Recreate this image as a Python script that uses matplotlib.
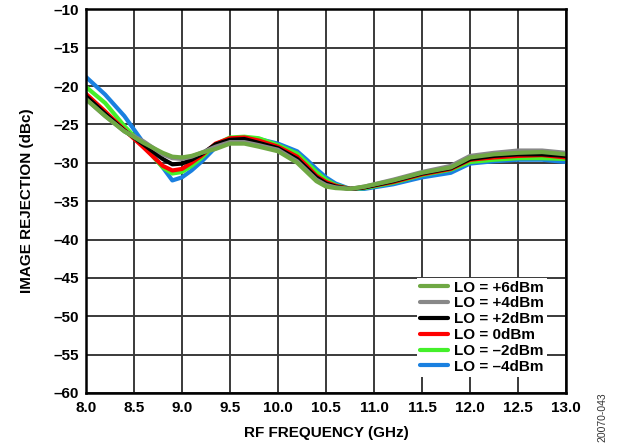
import matplotlib.pyplot as plt
from matplotlib.ticker import FixedLocator, FixedFormatter

plt.rcParams['font.family'] = ['Liberation Sans', 'DejaVu Sans']

# RF frequency (GHz)
freq = [8.0, 8.2, 8.4, 8.6, 8.8, 8.9, 9.0, 9.1, 9.2, 9.35, 9.5, 9.65, 9.8, 10.0, 10.2, 10.3,
        10.4, 10.5, 10.6, 10.75, 10.9, 11.2, 11.5, 11.8, 12.0, 12.25, 12.5, 12.75, 13.0]

# image rejection (dBc) for each LO drive level
lo_m4 = [-18.8, -21.1, -23.9, -27.4, -30.6, -32.3, -31.9, -31.0, -29.9, -28.0, -27.1, -26.8, -26.9, -27.5,
         -28.5, -29.6, -30.8, -31.9, -32.7, -33.4, -33.4, -32.8, -31.9, -31.3, -30.1, -29.8, -29.6, -29.6, -29.9]
lo_m2 = [-20.1, -22.2, -25.2, -27.8, -30.6, -31.4, -31.2, -30.4, -29.4, -27.6, -26.7, -26.6, -26.8, -27.7,
         -28.8, -30.0, -31.2, -32.2, -32.9, -33.4, -33.3, -32.6, -31.6, -30.9, -29.9, -29.6, -29.4, -29.4, -29.5]
lo_0 = [-21.0, -23.3, -25.7, -28.0, -30.4, -31.0, -30.8, -30.0, -29.1, -27.5, -26.8, -26.7, -27.1, -27.9,
        -29.2, -30.4, -31.7, -32.5, -33.0, -33.4, -33.2, -32.5, -31.5, -30.8, -29.6, -29.3, -29.1, -29.0, -29.3]
lo_p2 = [-21.3, -23.6, -25.8, -27.6, -29.5, -30.2, -30.1, -29.6, -28.9, -27.6, -27.0, -26.9, -27.4, -28.1,
         -29.5, -30.7, -31.9, -32.7, -33.1, -33.4, -33.2, -32.4, -31.4, -30.7, -29.5, -29.1, -28.9, -28.9, -29.1]
lo_p4 = [-21.7, -23.9, -25.9, -27.2, -28.9, -29.4, -29.5, -29.2, -28.7, -27.9, -27.3, -27.3, -27.7, -28.3,
         -29.8, -31.0, -32.2, -32.9, -33.2, -33.4, -33.1, -32.2, -31.2, -30.4, -29.1, -28.7, -28.4, -28.4, -28.7]
lo_p6 = [-21.7, -23.9, -25.9, -27.4, -28.7, -29.2, -29.3, -29.1, -28.7, -28.2, -27.5, -27.5, -27.9, -28.5,
         -30.0, -31.2, -32.4, -33.1, -33.3, -33.4, -33.1, -32.3, -31.3, -30.6, -29.3, -28.9, -28.7, -28.6, -28.9]

series = [
    ("LO = \u20134dBm", lo_m4, "#1a80e0"),
    ("LO = \u20132dBm", lo_m2, "#44f02a"),
    ("LO = 0dBm", lo_0, "#ff0000"),
    ("LO = +2dBm", lo_p2, "#000000"),
    ("LO = +4dBm", lo_p4, "#888888"),
    ("LO = +6dBm", lo_p6, "#6fa844"),
]

x_ticks = [8.0, 8.5, 9.0, 9.5, 10.0, 10.5, 11.0, 11.5, 12.0, 12.5, 13.0]
y_ticks = [-60, -55, -50, -45, -40, -35, -30, -25, -20, -15, -10]

fig = plt.figure(figsize=(6.18, 4.47), dpi=100)
ax = fig.add_axes([0.139, 0.121, 0.777, 0.858])

handles = []
for label, vals, color in series:
    h, = ax.plot(freq, vals, color=color, lw=3.0, label=label,
                 solid_capstyle='round', solid_joinstyle='round')
    handles.append(h)

ax.set_xlim(8.0, 13.0)
ax.set_ylim(-60, -10)
ax.xaxis.set_major_locator(FixedLocator(x_ticks))
ax.xaxis.set_major_formatter(FixedFormatter([f"{v:.1f}" for v in x_ticks]))
ax.yaxis.set_major_locator(FixedLocator(y_ticks))
ax.yaxis.set_major_formatter(FixedFormatter([f"\u2013{abs(v)}" for v in y_ticks]))
ax.tick_params(length=0, labelsize=11)
ax.tick_params(axis='x', pad=6)
ax.tick_params(axis='y', pad=5)
for lab in ax.get_xticklabels() + ax.get_yticklabels():
    lab.set_fontweight('bold')
ax.grid(True, color='#3a3a3a', lw=1.4)
for sp in ax.spines.values():
    sp.set_linewidth(1.8)

ax.set_xlabel("RF FREQUENCY (GHz)", fontsize=11, fontweight='bold', labelpad=8)
ax.set_ylabel("IMAGE REJECTION (dBc)", fontsize=11, fontweight='bold', labelpad=14)

leg = ax.legend(handles[::-1], [s[0] for s in series][::-1], loc='lower right',
                bbox_to_anchor=(0.96, 0.042), frameon=True, framealpha=1, edgecolor='none',
                fancybox=False, prop={'weight': 'bold', 'size': 11}, handlelength=1.8,
                labelspacing=0.12, borderpad=0.2, handletextpad=0.4, borderaxespad=0)
for line in leg.get_lines():
    line.set_linewidth(3)

fig.text(0.975, 0.067, "20070-043", rotation=90, fontsize=7.5, color='#333333',
         ha='center', va='center')

fig.savefig("out.png", dpi=100)
